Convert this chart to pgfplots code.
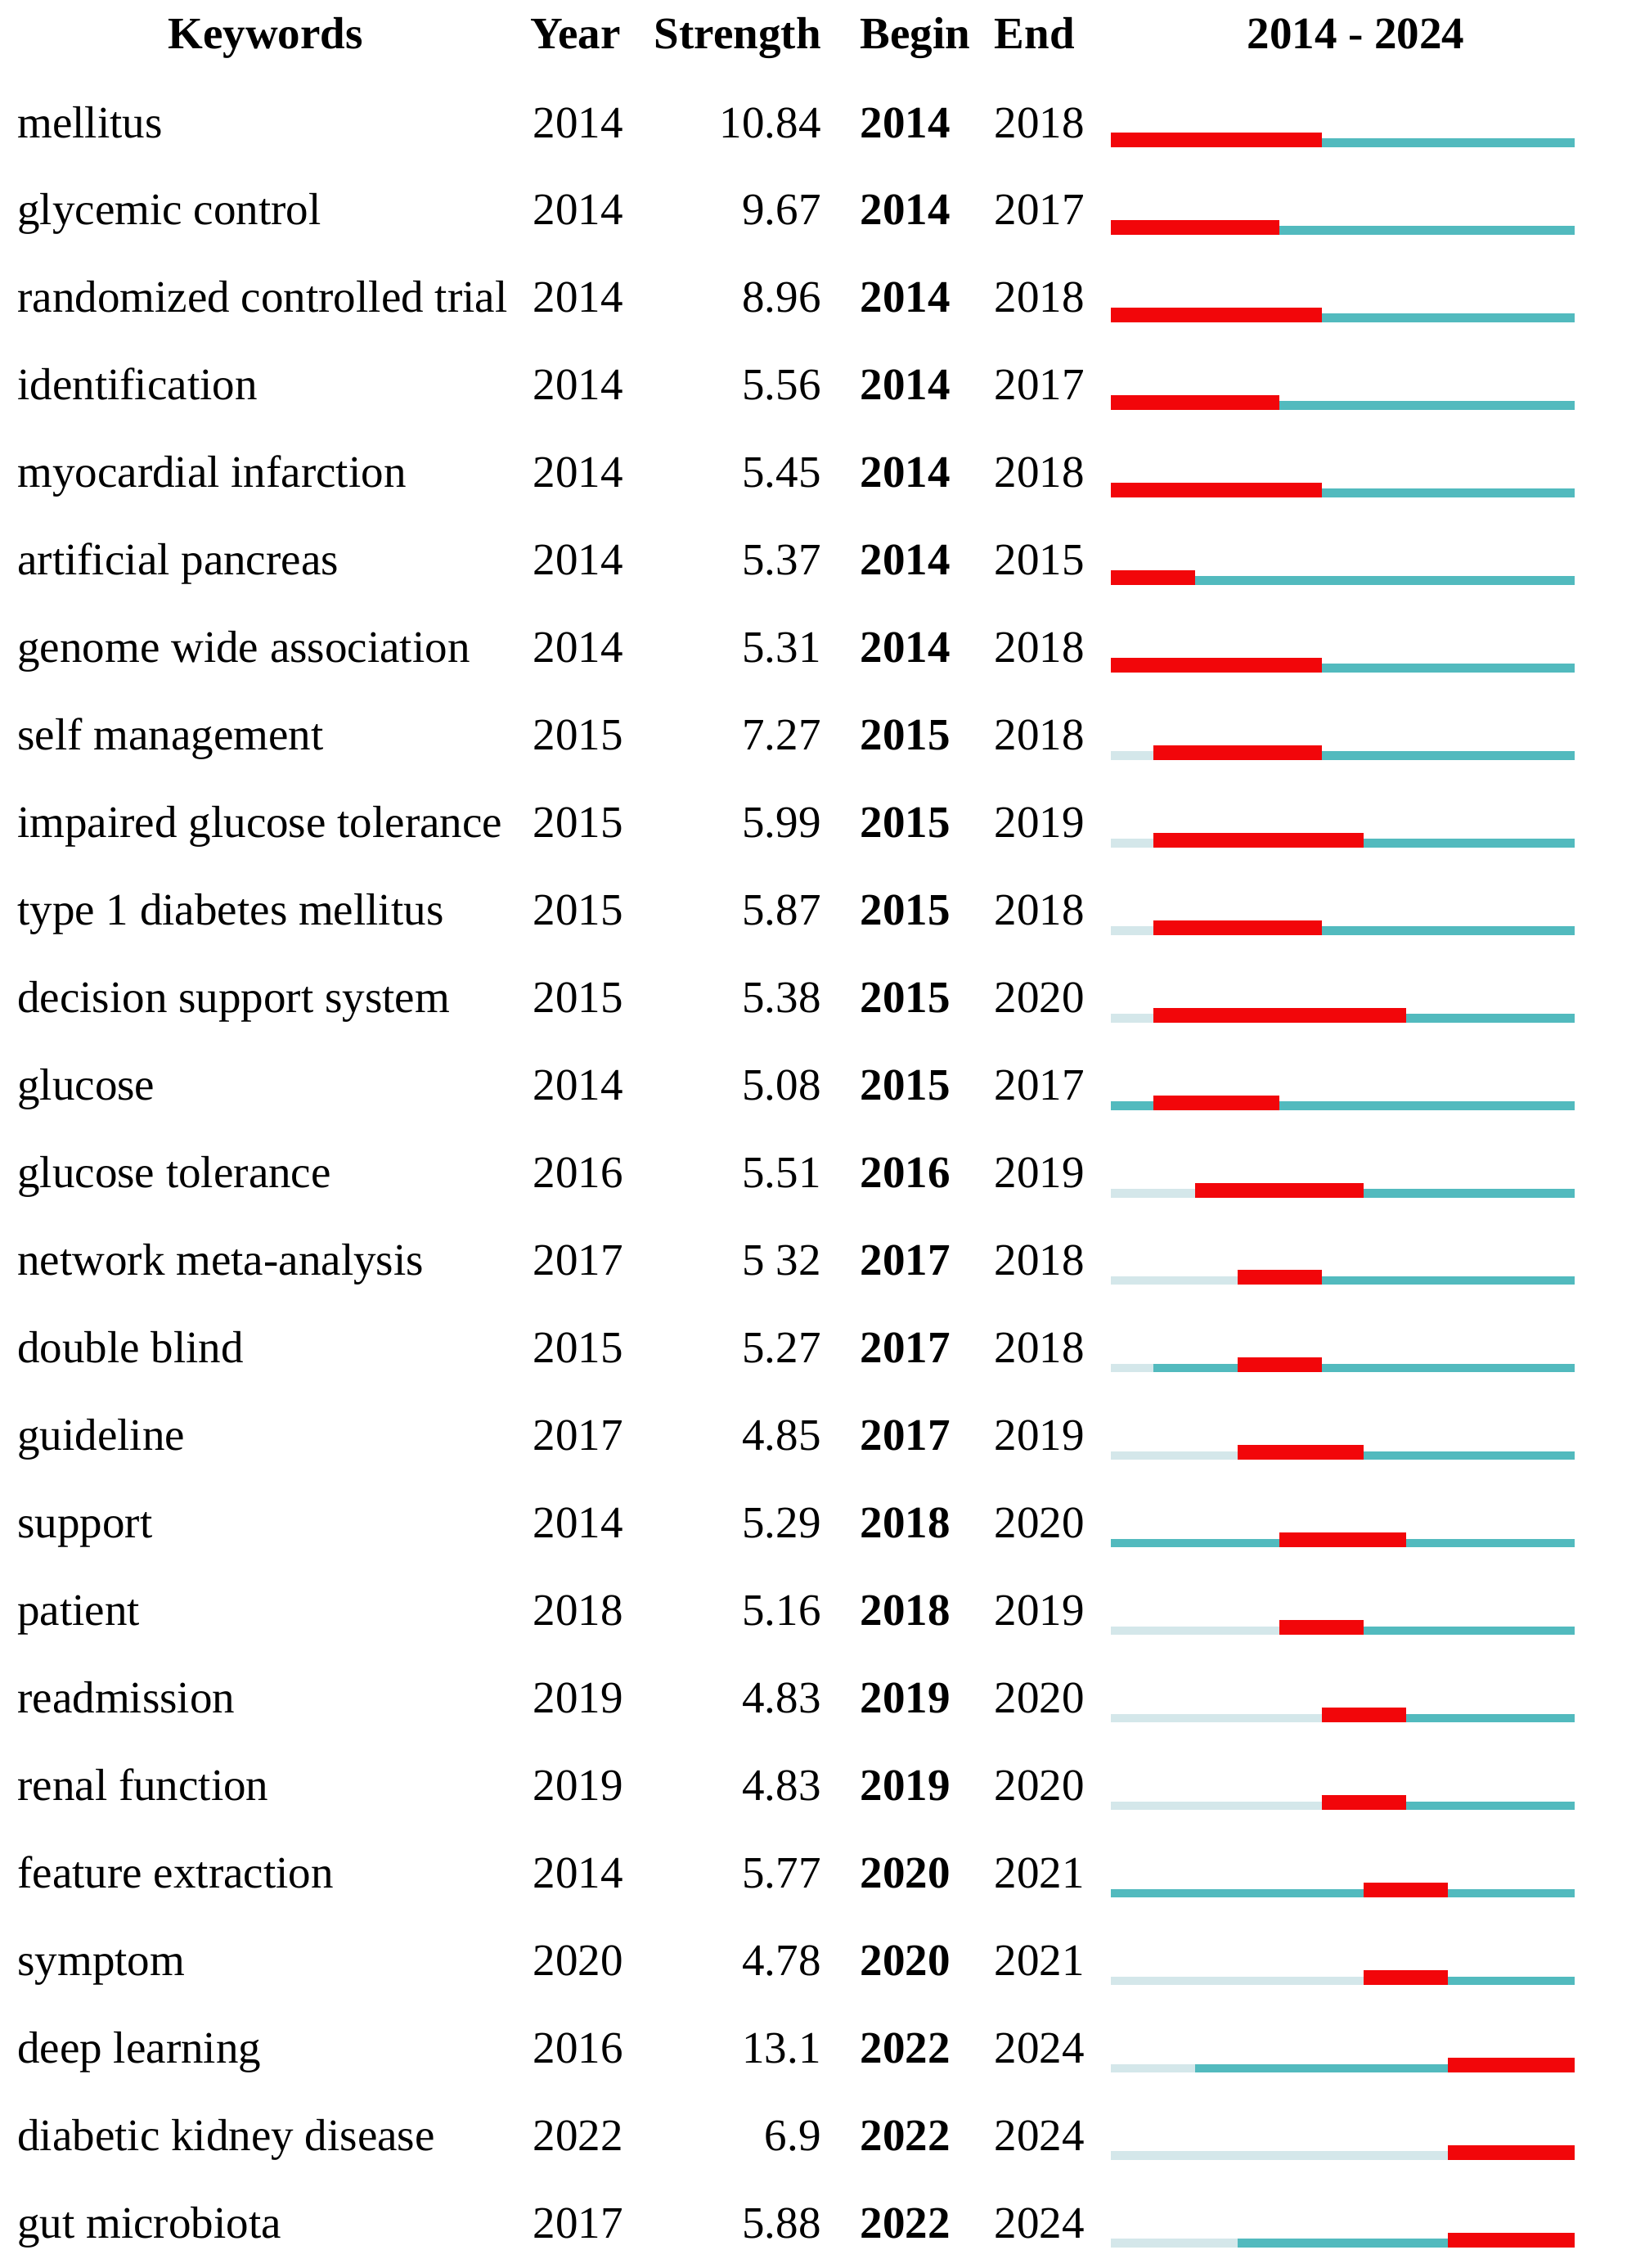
\documentclass[border=0pt]{standalone}
\usepackage{fontspec}
\setmainfont{Liberation Serif}
\usepackage{pgfplots}
\usepackage{pgfplotstable}
\pgfplotsset{compat=1.18}
\definecolor{burst}{RGB}{242,6,10}
\definecolor{tealC}{RGB}{82,186,190}
\definecolor{paleC}{RGB}{212,231,234}

\pgfplotstableread[col sep=comma]{
Keyword,Year,Strength,Begin,End
mellitus,2014,10.84,2014,2018
glycemic control,2014,9.67,2014,2017
randomized controlled trial,2014,8.96,2014,2018
identification,2014,5.56,2014,2017
myocardial infarction,2014,5.45,2014,2018
artificial pancreas,2014,5.37,2014,2015
genome wide association,2014,5.31,2014,2018
self management,2015,7.27,2015,2018
impaired glucose tolerance,2015,5.99,2015,2019
type 1 diabetes mellitus,2015,5.87,2015,2018
decision support system,2015,5.38,2015,2020
glucose,2014,5.08,2015,2017
glucose tolerance,2016,5.51,2016,2019
network meta-analysis,2017,5 32,2017,2018
double blind,2015,5.27,2017,2018
guideline,2017,4.85,2017,2019
support,2014,5.29,2018,2020
patient,2018,5.16,2018,2019
readmission,2019,4.83,2019,2020
renal function,2019,4.83,2019,2020
feature extraction,2014,5.77,2020,2021
symptom,2020,4.78,2020,2021
deep learning,2016,13.1,2022,2024
diabetic kidney disease,2022,6.9,2022,2024
gut microbiota,2017,5.88,2022,2024
}\data

\newcommand{\tfont}{\fontsize{15.6}{18}\selectfont}

\pgfplotsset{
  txt/.style={draw=none, mark=none, color=black, forget plot,
    mark options={draw=none,fill=none,scale=0},
    nodes near coords, point meta=explicit symbolic,
    every node near coord/.append style={font=\tfont, inner sep=0pt,
      anchor=#1, yshift=0.85pt, text=black}},
  seg/.style n args={3}{draw=none, mark=none, forget plot,
    mark options={draw=none,fill=none,scale=0},
    error bars/.cd, x dir=plus, x explicit, error mark=none,
    error bar style={line width=#2, draw=#1, yshift=#3}},
}

\begin{document}
\begin{tikzpicture}
\path (0,0) rectangle (567pt,785.9pt);
\begin{axis}[
  scale only axis, width=567pt, height=785.9pt,
  at={(0,0)}, anchor=south west,
  hide axis, clip=false,
  xmin=-26.35, xmax=12.455,
  ymin=-1.599, ymax=24.318, y dir=reverse,
]
% timeline segments
\addplot[seg={paleC}{3pt}{-1.05pt}] table[x expr=0, y expr=\coordindex,
  x error expr=\thisrow{Year}-2014] {\data};
\addplot[seg={tealC}{3pt}{-1.05pt}] table[x expr=\thisrow{Year}-2014, y expr=\coordindex,
  x error expr=\thisrow{Begin}-\thisrow{Year}] {\data};
\addplot[seg={tealC}{3pt}{-1.05pt}] table[x expr=\thisrow{End}+1-2014, y expr=\coordindex,
  x error expr=2024-\thisrow{End}] {\data};
\addplot[seg={burst}{5.1pt}{0pt}] table[x expr=\thisrow{Begin}-2014, y expr=\coordindex,
  x error expr=\thisrow{End}+1-\thisrow{Begin}] {\data};
% text columns
\addplot[txt=base west] table[x expr=-25.95, y expr=\coordindex, meta=Keyword] {\data};
\addplot[txt=base west] table[x expr=-13.72, y expr=\coordindex, meta=Year] {\data};
\addplot[txt=base east] table[x expr=-6.86, y expr=\coordindex, meta=Strength] {\data};
\addplot[txt=base west, every node near coord/.append style={font=\tfont\bfseries}] table[x expr=-5.96, y expr=\coordindex, meta=Begin] {\data};
\addplot[txt=base west] table[x expr=-2.77, y expr=\coordindex, meta=End] {\data};
% header
\node[anchor=base, font=\tfont\bfseries, inner sep=0pt] at (axis cs:-20.05,-1.038) {Keywords};
\node[anchor=base west, font=\tfont\bfseries, inner sep=0pt] at (axis cs:-13.78,-1.038) {Year};
\node[anchor=base east, font=\tfont\bfseries, inner sep=0pt] at (axis cs:-6.86,-1.038) {Strength};
\node[anchor=base west, font=\tfont\bfseries, inner sep=0pt] at (axis cs:-5.96,-1.038) {Begin};
\node[anchor=base west, font=\tfont\bfseries, inner sep=0pt] at (axis cs:-2.77,-1.038) {End};
\node[anchor=base, font=\tfont\bfseries, inner sep=0pt] at (axis cs:5.81,-1.038) {2014 - 2024};
\end{axis}
\end{tikzpicture}
\end{document}
